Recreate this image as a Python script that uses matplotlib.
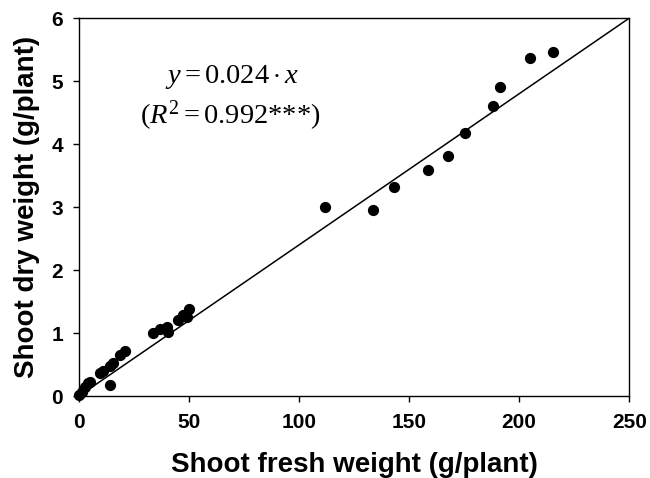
import numpy as np
import matplotlib
matplotlib.use('Agg')
import matplotlib.pyplot as plt

plt.rcParams['font.family'] = ['Liberation Sans', 'DejaVu Sans']
plt.rcParams['mathtext.fontset'] = 'custom'
plt.rcParams['mathtext.rm'] = 'Liberation Serif'
plt.rcParams['mathtext.it'] = 'Liberation Serif:italic'

# shoot fresh weight (g/plant) and shoot dry weight (g/plant)
fresh = [0.0, 1.2, 2.7, 4.2, 5.0, 9.5, 11.0, 14.0, 14.0, 15.6, 18.6, 20.9,
         33.8, 36.8, 39.8, 40.6, 45.0, 47.4, 49.0, 50.0,
         111.8, 133.6, 143.0, 158.6, 167.7, 175.5, 188.0, 191.4, 205.0, 215.5]
dry = [0.02, 0.07, 0.14, 0.20, 0.23, 0.36, 0.39, 0.17, 0.47, 0.52, 0.65, 0.72,
       1.00, 1.06, 1.10, 1.01, 1.20, 1.28, 1.25, 1.38,
       3.00, 2.95, 3.32, 3.59, 3.81, 4.17, 4.60, 4.90, 5.37, 5.46]
slope = 0.024
r2 = 0.992

fig = plt.figure(figsize=(6.5, 4.78), dpi=100)
ax = fig.add_axes([0.1215, 0.1715, 0.8465, 0.7905])

xl = np.array([0, 250])
ax.plot(xl, slope * xl, color='black', lw=1.1)
ax.scatter(fresh, dry, s=50, color='black', zorder=3, clip_on=False)

ax.set_xlim(0, 250)
ax.set_ylim(0, 6)
ax.set_xticks([0, 50, 100, 150, 200, 250])
ax.set_yticks([0, 1, 2, 3, 4, 5, 6])
ax.tick_params(direction='out', length=4.5, labelsize=15, width=1)
ax.tick_params(axis='x', pad=8)
ax.tick_params(axis='y', pad=7)
for lab in ax.get_xticklabels() + ax.get_yticklabels():
    lab.set_fontweight('bold')
for s in ax.spines.values():
    s.set_linewidth(1)

ax.set_xlabel('Shoot fresh weight (g/plant)', fontsize=20, fontweight='bold', labelpad=14)
ax.set_ylabel('Shoot dry weight (g/plant)', fontsize=20, fontweight='bold', labelpad=8)

ax.text(0.278, 0.844, r'$y = %.3f\cdot x$' % slope, transform=ax.transAxes,
        ha='center', va='center', fontsize=20.5)
ax.text(0.275, 0.741, r'$(R^2 = %.3f$***$)$' % r2, transform=ax.transAxes,
        ha='center', va='center', fontsize=20.5, family='Liberation Serif')

fig.savefig('out.png', dpi=100)
